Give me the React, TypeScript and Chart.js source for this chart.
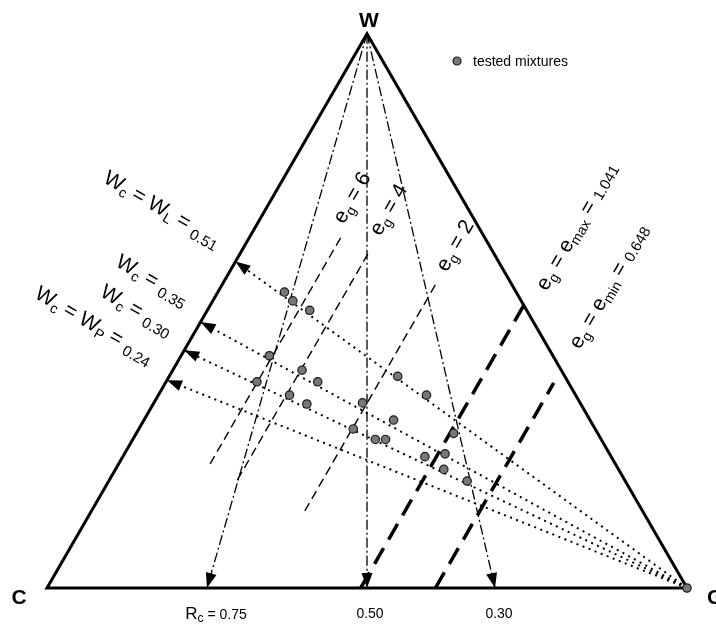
import { useEffect, useRef } from 'react';
import { Chart, registerables } from 'chart.js';

Chart.register(...registerables);

const H = Math.sqrt(3) / 2;

// Rays from the W apex: clay ratio Rc = C / (C + G) where they meet the C–G side
const rcValues = [0.75, 0.5, 0.3];
const rcTexts = ['0.75', '0.50', '0.30'];

// Gravel void ratio eg = (W + C) / G -> lines of constant gravel fraction
const egValues = [6, 4, 2];
const egFromWater = [0.224, 0.195, 0.139];
const egToWater = [0.632, 0.61, 0.547];

const egLimitKeys = ['max', 'min'];
const egLimitValues = [1.041, 0.648];
const egLimitToWater = [0.51, 0.37];

// Clay water-content rays from G: water fraction where each one meets the C–W side
const wcTexts = ['0.51', '0.35', '0.30', '0.24'];
const wcSubscripts = ['L', '', '', 'P'];
const wcSideWater = [0.589, 0.48, 0.429, 0.375];

// Tested mixtures: water and gravel fractions (clay is the remainder)
const mixWater = [0.534, 0.518, 0.501, 0.419, 0.393, 0.372, 0.372, 0.382, 0.348, 0.348, 0.332, 0.334, 0.303, 0.279, 0.287, 0.268, 0.268, 0.237, 0.242, 0.214, 0.193];
const mixGravel = [0.104, 0.125, 0.16, 0.138, 0.202, 0.142, 0.237, 0.357, 0.419, 0.205, 0.24, 0.326, 0.39, 0.496, 0.335, 0.379, 0.395, 0.472, 0.501, 0.513, 0.56];

// ternary (water, gravel) -> cartesian with C at the origin, G at (1, 0), W on top
const pt = (water: number, gravel: number) => ({ x: gravel + water / 2, y: water * H });
const gravelOfEg = (e: number) => 1 / (1 + e);

const FONT = '"Liberation Sans", Arial, Helvetica, sans-serif';
const BIG = 21;
const SUB = 14;
const VAL = 15;

type Run = { t: string; s: number; dy?: number; b?: boolean };

function drawRuns(ctx: CanvasRenderingContext2D, list: Run[], cx: number, cy: number, angle: number, align: 'center' | 'left' = 'center') {
  ctx.save();
  ctx.translate(cx, cy);
  ctx.rotate(angle);
  ctx.textBaseline = 'alphabetic';
  ctx.textAlign = 'left';
  ctx.fillStyle = '#000';
  const fontOf = (r: Run) => `${r.b ? 'bold ' : ''}${r.s}px ${FONT}`;
  const widths = list.map((r) => {
    ctx.font = fontOf(r);
    return ctx.measureText(r.t).width;
  });
  const total = widths.reduce((a, b) => a + b, 0);
  let x = align === 'center' ? -total / 2 : 0;
  const base = list[0].s * 0.36;
  list.forEach((r, i) => {
    ctx.font = fontOf(r);
    ctx.fillText(r.t, x, base + (r.dy || 0));
    x += widths[i];
  });
  ctx.restore();
}

function arrowHead(ctx: CanvasRenderingContext2D, from: number[], to: number[], len = 15, half = 5.5) {
  const dx = to[0] - from[0];
  const dy = to[1] - from[1];
  const d = Math.hypot(dx, dy);
  const ux = dx / d;
  const uy = dy / d;
  const bx = to[0] - ux * len;
  const by = to[1] - uy * len;
  ctx.beginPath();
  ctx.moveTo(to[0], to[1]);
  ctx.lineTo(bx - uy * half, by + ux * half);
  ctx.lineTo(bx + uy * half, by - ux * half);
  ctx.closePath();
  ctx.fillStyle = '#000';
  ctx.fill();
}

const annotations = {
  id: 'ternaryAnnotations',
  beforeDraw(chart: Chart) {
    const { ctx, width, height } = chart;
    ctx.save();
    ctx.fillStyle = '#fff';
    ctx.fillRect(0, 0, width, height);
    ctx.restore();
  },
  afterDatasetsDraw(chart: Chart) {
    const { ctx } = chart;
    const xs = chart.scales.x;
    const ys = chart.scales.y;
    const P = (w: number, g: number) => {
      const p = pt(w, g);
      return [xs.getPixelForValue(p.x), ys.getPixelForValue(p.y)];
    };

    rcValues.forEach((rc) => arrowHead(ctx, P(1, 0), P(0, 1 - rc)));
    wcSideWater.forEach((w) => arrowHead(ctx, P(0, 1), P(w, 0)));

    // corner names
    drawRuns(ctx, [{ t: 'W', s: BIG, b: true }], 369, 19, 0);
    drawRuns(ctx, [{ t: 'C', s: BIG, b: true }], 19, 596, 0);
    drawRuns(ctx, [{ t: 'G', s: BIG, b: true }], 707, 596, 0, 'left');

    // legend
    ctx.save();
    ctx.beginPath();
    ctx.arc(457, 61, 4, 0, Math.PI * 2);
    ctx.fillStyle = '#777';
    ctx.fill();
    ctx.lineWidth = 1.2;
    ctx.strokeStyle = '#1a1a1a';
    ctx.stroke();
    ctx.restore();
    drawRuns(ctx, [{ t: 'tested mixtures', s: 14 }], 473, 61, 0, 'left');

    // Rc labels under the base
    const rcCenters = [216, 370, 499];
    rcTexts.forEach((t, i) => {
      const list: Run[] = i === 0
        ? [{ t: 'R', s: 17 }, { t: 'c', s: 12, dy: 3 }, { t: ' = ' + t, s: 14 }]
        : [{ t, s: 14 }];
      drawRuns(ctx, list, rcCenters[i], 613, 0);
    });

    // water-content labels beside the C–W side
    const wcCenters = [[163, 208], [153, 279], [137.5, 309], [95, 324]];
    wcTexts.forEach((t, i) => {
      const list: Run[] = [{ t: 'W', s: BIG }, { t: 'c', s: SUB, dy: 4 }, { t: ' = ', s: BIG }];
      if (wcSubscripts[i]) list.push({ t: 'W', s: BIG }, { t: wcSubscripts[i], s: SUB, dy: 4 }, { t: ' = ', s: BIG });
      list.push({ t, s: VAL, dy: 5 });
      drawRuns(ctx, list, wcCenters[i][0], wcCenters[i][1], Math.PI / 6);
    });

    // void-ratio labels along their lines
    const egCenters = [[351, 197], [387.5, 209], [454, 245]];
    egValues.forEach((e, i) => {
      drawRuns(ctx, [{ t: 'e', s: BIG }, { t: 'g', s: SUB, dy: 4 }, { t: ' = ' + e, s: BIG }], egCenters[i][0], egCenters[i][1], -Math.PI / 3);
    });
    const limitCenters = [[576, 226], [608, 286]];
    egLimitKeys.forEach((k, i) => {
      drawRuns(ctx, [
        { t: 'e', s: BIG }, { t: 'g', s: SUB, dy: 4 }, { t: ' = ', s: BIG },
        { t: 'e', s: BIG }, { t: k, s: SUB, dy: 4 }, { t: ' = ', s: BIG },
        { t: egLimitValues[i].toFixed(3), s: VAL, dy: 2 },
      ], limitCenters[i][0], limitCenters[i][1], -Math.PI / 3);
    });
  },
};

const seg = (data: { x: number; y: number }[], style: Record<string, unknown>) => ({
  data,
  showLine: true,
  pointRadius: 0,
  pointHoverRadius: 0,
  borderColor: '#000',
  backgroundColor: '#000',
  fill: false,
  order: 2,
  ...style,
});

export default function App() {
  const ref = useRef<HTMLCanvasElement>(null);

  useEffect(() => {
    const rcRays = rcValues.map((rc) => seg([pt(1, 0), pt(0, 1 - rc)], { borderWidth: 1.3, borderDash: [10, 3, 2, 3] }));
    const egLines = egValues.map((e, i) => {
      const g = gravelOfEg(e);
      return seg([pt(egFromWater[i], g), pt(egToWater[i], g)], { borderWidth: 1.4, borderDash: [9, 5] });
    });
    const egLimits = egLimitValues.map((e, i) => {
      const g = gravelOfEg(e);
      return seg([pt(0, g), pt(egLimitToWater[i], g)], { borderWidth: 3.5, borderDash: [18, 10] });
    });
    const wcRays = wcSideWater.map((w) => seg([pt(0, 1), pt(w, 0)], { borderWidth: 2, borderDash: [2, 4.5] }));
    const outline = seg([pt(0, 0), pt(0, 1), pt(1, 0), pt(0, 0), pt(0, 1)], {
      borderWidth: 3,
      borderJoinStyle: 'miter',
      order: 1,
    });
    const mixtures = {
      label: 'tested mixtures',
      data: mixWater.map((w, i) => pt(w, mixGravel[i])),
      showLine: false,
      pointRadius: 4.2,
      pointHoverRadius: 4.2,
      pointBackgroundColor: '#777',
      pointBorderColor: '#1a1a1a',
      pointBorderWidth: 1.2,
      order: 0,
    };
    const gravelCorner = { ...mixtures, label: 'G', data: [pt(0, 1)] };

    const chart = new Chart(ref.current as HTMLCanvasElement, {
      type: 'scatter',
      data: { datasets: [mixtures, gravelCorner, outline, ...rcRays, ...egLines, ...egLimits, ...wcRays] as any },
      options: {
        animation: false,
        responsive: false,
        devicePixelRatio: 1,
        events: [],
        layout: { padding: 0, autoPadding: false },
        plugins: { legend: { display: false }, tooltip: { enabled: false } },
        scales: {
          x: { type: 'linear', min: -47 / 640, max: 669 / 640, display: false },
          y: { type: 'linear', min: -38 / 640, max: 588 / 640, display: false },
        },
      },
      plugins: [annotations],
    });
    return () => chart.destroy();
  }, []);

  return (
    <div style={{ position: 'fixed', left: 0, top: 0, width: 716, height: 626, background: '#fff' }}>
      <canvas ref={ref} width={716} height={626} style={{ display: 'block' }} />
    </div>
  );
}
